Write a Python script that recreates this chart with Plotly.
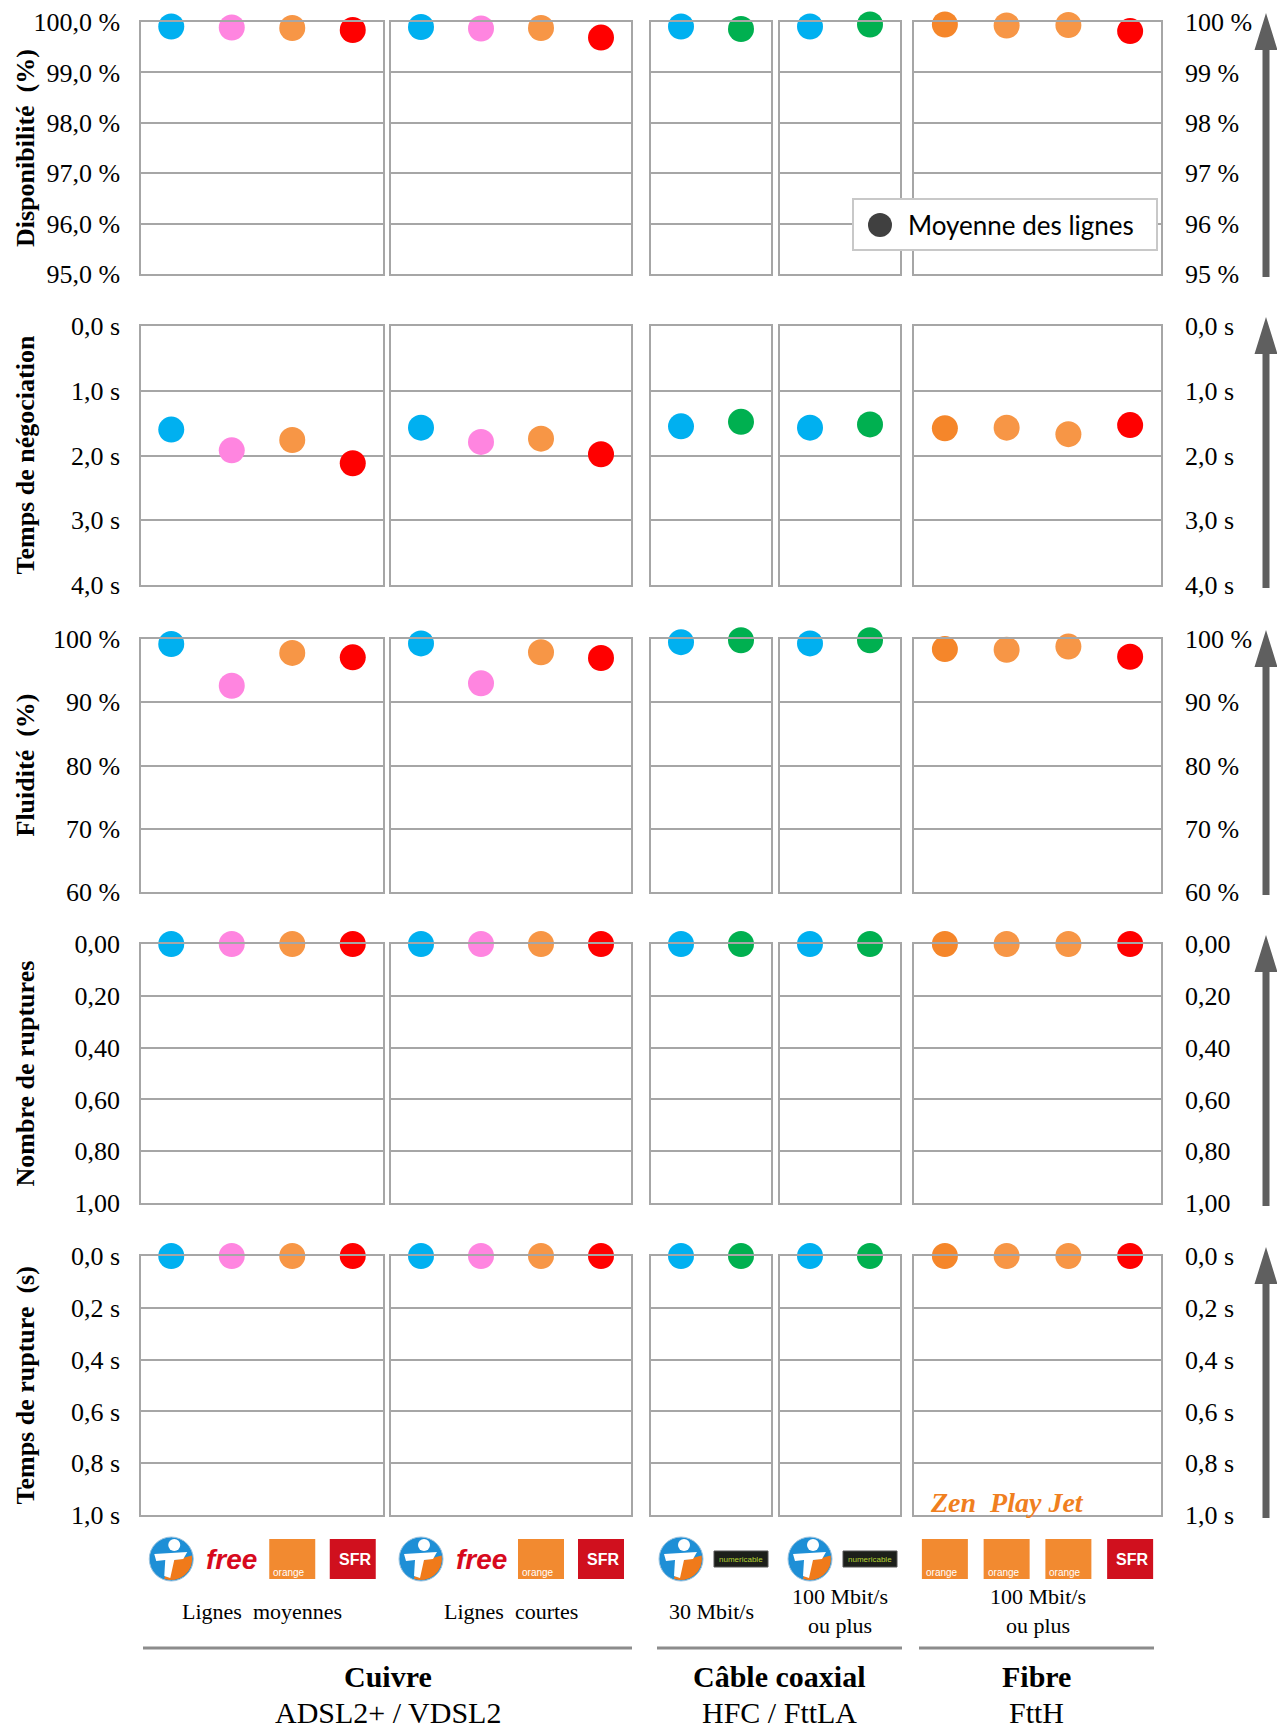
import math
import plotly.graph_objects as go

W, H = 1277, 1728

# operators shown in each panel (same order in every row)
ops_moyennes = ['Bouygues Telecom', 'Free', 'Orange', 'SFR']
ops_courtes = ['Bouygues Telecom', 'Free', 'Orange', 'SFR']
ops_cable_30 = ['Bouygues Telecom', 'Numericable']
ops_cable_100 = ['Bouygues Telecom', 'Numericable']
ops_fibre = ['Orange Zen', 'Orange Play', 'Orange Jet', 'SFR']
panel_ops = [ops_moyennes, ops_courtes, ops_cable_30, ops_cable_100, ops_fibre]

panel_labels = ['Lignes\u00a0\u00a0moyennes', 'Lignes\u00a0\u00a0courtes', '30 Mbit/s',
                '100 Mbit/s<br>ou plus', '100 Mbit/s<br>ou plus']
fibre_offres = ['Zen', 'Play', 'Jet']

# values, in the order of the 16 operators above
disponibilite = [99.91, 99.89, 99.88, 99.84, 99.90, 99.87, 99.88, 99.69,
                 99.91, 99.86, 99.91, 99.95, 99.95, 99.93, 99.94, 99.82]
negociation = [1.60, 1.92, 1.76, 2.12, 1.57, 1.79, 1.74, 1.98,
               1.55, 1.48, 1.57, 1.52, 1.58, 1.57, 1.67, 1.53]
fluidite = [99.2, 92.6, 97.8, 97.1, 99.3, 93.0, 97.9, 97.0,
            99.5, 99.8, 99.3, 99.8, 98.4, 98.3, 98.8, 97.2]
nb_ruptures = [0.0, 0.0, 0.0, 0.0, 0.0, 0.0, 0.0, 0.0,
               0.0, 0.0, 0.0, 0.0, 0.0, 0.0, 0.0, 0.0]
temps_rupture = [0.0, 0.0, 0.0, 0.0, 0.0, 0.0, 0.0, 0.0,
                 0.0, 0.0, 0.0, 0.0, 0.0, 0.0, 0.0, 0.0]

metric_titles = ['Disponibilité\u00a0\u00a0(%)', 'Temps de négociation', 'Fluidité\u00a0\u00a0(%)',
                 'Nombre de ruptures', 'Temps de rupture\u00a0\u00a0(s)']
legend_label = 'Moyenne des lignes'

dispo_ticks = [95, 96, 97, 98, 99, 100]
dispo_left = ['95,0 %', '96,0 %', '97,0 %', '98,0 %', '99,0 %', '100,0 %']
dispo_right = ['95 %', '96 %', '97 %', '98 %', '99 %', '100 %']
nego_ticks = [0, 1, 2, 3, 4]
nego_labels = ['0,0 s', '1,0 s', '2,0 s', '3,0 s', '4,0 s']
flu_ticks = [60, 70, 80, 90, 100]
flu_labels = ['60 %', '70 %', '80 %', '90 %', '100 %']
rupt_ticks = [0, 0.2, 0.4, 0.6, 0.8, 1.0]
rupt_labels = ['0,00', '0,20', '0,40', '0,60', '0,80', '1,00']
trupt_ticks = [0, 0.2, 0.4, 0.6, 0.8, 1.0]
trupt_labels = ['0,0 s', '0,2 s', '0,4 s', '0,6 s', '0,8 s', '1,0 s']

op_colors = {'Bouygues Telecom': '#00B0F0', 'Free': '#FF85E0', 'Orange': '#F79646',
             'SFR': '#FF0000', 'Numericable': '#00B050', 'Orange Zen': '#F5862A',
             'Orange Play': '#F79646', 'Orange Jet': '#F79646'}

rows = [
    dict(values=disponibilite, ticks=dispo_ticks, left=dispo_left, right=dispo_right, rng=[95, 100]),
    dict(values=negociation, ticks=nego_ticks, left=nego_labels, right=nego_labels, rng=[4, 0]),
    dict(values=fluidite, ticks=flu_ticks, left=flu_labels, right=flu_labels, rng=[60, 100]),
    dict(values=nb_ruptures, ticks=rupt_ticks, left=rupt_labels, right=rupt_labels, rng=[1, 0]),
    dict(values=temps_rupture, ticks=trupt_ticks, left=trupt_labels, right=trupt_labels, rng=[1, 0]),
]

# pixel geometry of the panels
col_px = [(141, 383), (391, 631), (651, 771), (780, 900), (914, 1161)]
row_px = [(22, 274), (326, 585), (639, 892), (944, 1203), (1256, 1515)]


def px(x):
    return x / W


def py(y):
    return 1 - y / H


GRID = '#A6A6A6'
SERIF = 'Liberation Serif'
fig = go.Figure()
layout = {}

for r, row in enumerate(rows):
    start = 0
    for c, ops in enumerate(panel_ops):
        n = r * 5 + c + 1
        vals = row['values'][start:start + len(ops)]
        start += len(ops)
        fig.add_trace(go.Scatter(
            x=list(range(len(ops))), y=vals, mode='markers', text=ops,
            marker=dict(color=[op_colors[o] for o in ops], size=26, line=dict(width=0)),
            cliponaxis=False, showlegend=False,
            xaxis='x' if n == 1 else f'x{n}', yaxis='y' if n == 1 else f'y{n}'))

        xa = 'xaxis' if n == 1 else f'xaxis{n}'
        ya = 'yaxis' if n == 1 else f'yaxis{n}'
        layout[xa] = dict(domain=[px(col_px[c][0]), px(col_px[c][1])],
                          anchor='y' if n == 1 else f'y{n}', automargin=False,
                          range=[-0.5, len(ops) - 0.5], showgrid=False, zeroline=False,
                          showticklabels=False, showline=True, mirror=True,
                          linecolor=GRID, linewidth=1.5, fixedrange=True)
        ax = dict(domain=[py(row_px[r][1]), py(row_px[r][0])],
                  anchor='x' if n == 1 else f'x{n}', automargin=False,
                  range=row['rng'], tickvals=row['ticks'], showgrid=True,
                  gridcolor=GRID, gridwidth=1.5, zeroline=False, showline=True,
                  mirror=True, linecolor=GRID, linewidth=1.5, fixedrange=True,
                  showticklabels=False, tickfont=dict(family=SERIF, size=26, color='#000'))
        if c == 0:
            ax.update(showticklabels=True, ticktext=row['left'], ticks='outside',
                      ticklen=14, tickcolor='rgba(0,0,0,0)')
        if c == 4:
            ax.update(showticklabels=True, ticktext=row['right'], side='right',
                      ticks='outside', ticklen=17, tickcolor='rgba(0,0,0,0)')
        layout[ya] = ax

annotations = []
shapes = []


def note(text, x, y, xref='paper', size=22, family=SERIF, color='#000', **kw):
    d = dict(text=text, x=x, y=y, xref=xref, yref='paper', showarrow=False,
             xanchor='center', yanchor='middle',
             font=dict(family=family, size=size, color=color))
    d.update(kw)
    annotations.append(d)


# row titles and arrows
for r, title in enumerate(metric_titles):
    top, bot = row_px[r]
    note(f'<b>{title}</b>', px(25), py((top + bot) / 2), size=26, textangle=-90)
    tip, base, end = top - 9, top + 28, bot + 3
    xc = 1266
    path = (f'M {px(xc - 3.5)},{py(end)} L {px(xc - 3.5)},{py(base)} L {px(xc - 11.5)},{py(base)} '
            f'L {px(xc)},{py(tip)} L {px(xc + 11.5)},{py(base)} L {px(xc + 3.5)},{py(base)} '
            f'L {px(xc + 3.5)},{py(end)} Z')
    shapes.append(dict(type='path', path=path, xref='paper', yref='paper',
                       fillcolor='#5F5F5F', line=dict(width=0)))

# legend box (drawn by hand so the symbol keeps the marker size)
shapes.append(dict(type='rect', xref='paper', yref='paper', x0=px(853), x1=px(1157),
                   y0=py(250), y1=py(199), fillcolor='white',
                   line=dict(color='#C8C8C8', width=2)))
shapes.append(dict(type='circle', xref='paper', yref='paper', x0=px(868), x1=px(892),
                   y0=py(237), y1=py(213), fillcolor='#404040', line=dict(width=0)))
note(legend_label, px(906), py(225), size=26, family='Lato', xanchor='left')

# labels under each panel
for c, lab in enumerate(panel_labels):
    note(lab, 0.5, py(1611), xref=f'x{20 + c + 1} domain', size=22)

# Zen Play Jet, centred under the middle fibre offer
offres_txt = '\u00a0\u00a0'.join(fibre_offres[:2]) + ' ' + fibre_offres[2]
note(f'<b><i>{offres_txt}</i></b>', 1, py(1502), xref='x25', size=28, color='#F07F1F')

# technology groups
groups = [('Cuivre', 'ADSL2+ / VDSL2', 143, 632), ('Câble coaxial', 'HFC / FttLA', 657, 902),
          ('Fibre', 'FttH', 919, 1154)]
for name, sub, x0, x1 in groups:
    shapes.append(dict(type='line', xref='paper', yref='paper', x0=px(x0), x1=px(x1),
                       y0=py(1648), y1=py(1648), line=dict(color='#8C8C8C', width=3)))
    xm = px((x0 + x1) / 2)
    note(f'<b>{name}</b>', xm, py(1676), size=30)
    note(sub, xm, py(1712), size=30)

# simple logo drawings under the markers
LOGO_Y = py(1559)


def pix_shape(xref, xv, **kw):
    d = dict(xref=xref, yref='paper', xsizemode='pixel', ysizemode='pixel',
             xanchor=xv, yanchor=LOGO_Y)
    d.update(kw)
    return d


def logo(op, xref, xv):
    if op == 'Bouygues Telecom':
        shapes.append(pix_shape(xref, xv, type='circle', x0=-22, x1=22, y0=-22, y1=22,
                                fillcolor='#1E8FD6', line=dict(color='#9CC3DE', width=1)))
        pts = [(21 * math.cos(math.radians(a)), 21 * math.sin(math.radians(a)))
               for a in range(-110, 25, 15)]
        p = 'M 0,-2 ' + ' '.join(f'L {x:.1f},{y:.1f}' for x, y in pts) + ' Z'
        shapes.append(pix_shape(xref, xv, type='path', path=p, fillcolor='#F07A1A',
                                line=dict(width=0)))
        shapes.append(pix_shape(xref, xv, type='path',
                                path='M -17,5 L 16,7 L 12,0 L 3,-1 L -1,-19 L -7,-17 L -6,-1 L -15,-2 Z',
                                fillcolor='white', line=dict(width=0)))
        shapes.append(pix_shape(xref, xv, type='circle', x0=-3, x1=9, y0=8, y1=20,
                                fillcolor='white', line=dict(width=0)))
    elif op == 'Free':
        note('<b><i>free</i></b>', xv, LOGO_Y, xref=xref, size=28,
             family='Liberation Sans', color='#D70A1E')
    elif op.startswith('Orange'):
        shapes.append(pix_shape(xref, xv, type='rect', x0=-23, x1=23, y0=-20, y1=20,
                                fillcolor='#F28A30', line=dict(width=0)))
        note('orange', xv, LOGO_Y, xref=xref, size=10, family='Liberation Sans',
             color='white', xshift=-3, yshift=-13)
    elif op == 'SFR':
        shapes.append(pix_shape(xref, xv, type='rect', x0=-23, x1=23, y0=-20, y1=20,
                                fillcolor='#D0101E', line=dict(width=0)))
        note('<b>SFR</b>', xv, LOGO_Y, xref=xref, size=16, family='Liberation Sans',
             color='white', xshift=2)
    elif op == 'Numericable':
        shapes.append(pix_shape(xref, xv, type='rect', x0=-27, x1=27, y0=-8, y1=8,
                                fillcolor='#1C1F1A', line=dict(color='#555555', width=1)))
        note('numericable', xv, LOGO_Y, xref=xref, size=8, family='Liberation Sans',
             color='#B5D334')


for c, ops in enumerate(panel_ops):
    for i, op in enumerate(ops):
        logo(op, f'x{20 + c + 1}', i)

fig.update_layout(**layout)
fig.update_layout(
    width=W, height=H, margin=dict(l=0, r=0, t=0, b=0, autoexpand=False),
    plot_bgcolor='white', paper_bgcolor='white',
    annotations=annotations, shapes=shapes, showlegend=False,
)

fig.write_html('out.html', config={'displayModeBar': False},
               post_script="document.body.style.margin='0';")
